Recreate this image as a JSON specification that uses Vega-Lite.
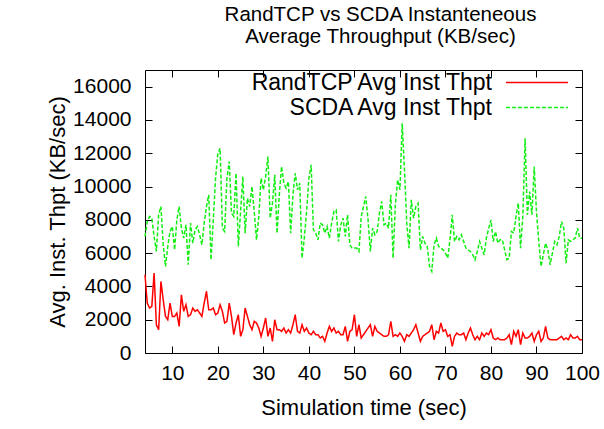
{
 "$schema": "https://vega.github.io/schema/vega-lite/v6.json",
 "width": 437,
 "height": 283,
 "autosize": {"type": "none"},
 "padding": {"left": 145, "top": 70, "right": 22, "bottom": 76},
 "background": "white",
 "config": {
  "font": "Liberation Sans",
  "view": {"stroke": "#000", "strokeWidth": 1},
  "axis": {"grid": false, "domain": false, "labelColor": "#000", "titleColor": "#000", "tickColor": "#000", "labelFontSize": 21, "titleFontSize": 22, "titleFontWeight": "normal", "labelFont": "Liberation Sans", "titleFont": "Liberation Sans", "tickSize": -7, "labelPadding": 15, "labelOverlap": false, "labelFlush": false}
 },
 "title": {"text": ["RandTCP vs SCDA Instanteneous", "Average Throughput (KB/sec)"], "fontSize": 20.5, "fontWeight": "normal", "font": "Liberation Sans", "color": "#000", "anchor": "middle", "dx": 17, "offset": 22, "lineHeight": 22},
 "data": {"values": [
  {"t":4.0,"RandTCP":4700,"SCDA":7000},{"t":4.5,"RandTCP":3000,"SCDA":7900},{"t":5.0,"RandTCP":2700,"SCDA":8200},{"t":5.5,"RandTCP":2800,"SCDA":8100},
  {"t":6.0,"RandTCP":4800,"SCDA":7000},{"t":6.5,"RandTCP":1700,"SCDA":6100},{"t":7.0,"RandTCP":1400,"SCDA":8300},{"t":7.5,"RandTCP":4300,"SCDA":8800},
  {"t":8.0,"RandTCP":3200,"SCDA":6500},{"t":8.5,"RandTCP":2200,"SCDA":5200},{"t":9.0,"RandTCP":2000,"SCDA":6400},{"t":9.5,"RandTCP":3000,"SCDA":7300},
  {"t":10.0,"RandTCP":2200,"SCDA":7600},{"t":10.5,"RandTCP":2200,"SCDA":6200},{"t":11.0,"RandTCP":2400,"SCDA":8000},{"t":11.5,"RandTCP":1600,"SCDA":8800},
  {"t":12.0,"RandTCP":3500,"SCDA":7500},{"t":12.5,"RandTCP":2500,"SCDA":6900},{"t":13.0,"RandTCP":2900,"SCDA":7700},{"t":13.5,"RandTCP":2200,"SCDA":5300},
  {"t":14.0,"RandTCP":2300,"SCDA":7800},{"t":14.5,"RandTCP":2700,"SCDA":6600},{"t":15.0,"RandTCP":2500,"SCDA":7400},{"t":15.5,"RandTCP":2600,"SCDA":7600},
  {"t":16.0,"RandTCP":2400,"SCDA":7100},{"t":16.5,"RandTCP":2200,"SCDA":6500},{"t":17.0,"RandTCP":3000,"SCDA":7800},{"t":17.5,"RandTCP":3700,"SCDA":8800},
  {"t":18.0,"RandTCP":2600,"SCDA":9500},{"t":18.5,"RandTCP":2600,"SCDA":5600},{"t":19.0,"RandTCP":2700,"SCDA":8000},{"t":19.5,"RandTCP":2300,"SCDA":10500},
  {"t":20.0,"RandTCP":2400,"SCDA":12000},{"t":20.5,"RandTCP":2900,"SCDA":12300},{"t":21.0,"RandTCP":2500,"SCDA":7500},{"t":21.5,"RandTCP":1800,"SCDA":7300},
  {"t":22.0,"RandTCP":1900,"SCDA":10500},{"t":22.5,"RandTCP":3000,"SCDA":11500},{"t":23.0,"RandTCP":2200,"SCDA":8400},{"t":23.5,"RandTCP":1100,"SCDA":8200},
  {"t":24.0,"RandTCP":1800,"SCDA":10800},{"t":24.5,"RandTCP":2300,"SCDA":6400},{"t":25.0,"RandTCP":1000,"SCDA":8500},{"t":25.5,"RandTCP":1400,"SCDA":10600},
  {"t":26.0,"RandTCP":2700,"SCDA":7200},{"t":26.5,"RandTCP":2200,"SCDA":9300},{"t":27.0,"RandTCP":1700,"SCDA":8800},{"t":27.5,"RandTCP":1400,"SCDA":10000},
  {"t":28.0,"RandTCP":1900,"SCDA":8500},{"t":28.5,"RandTCP":1800,"SCDA":6800},{"t":29.0,"RandTCP":1500,"SCDA":8200},{"t":29.5,"RandTCP":1000,"SCDA":10500},
  {"t":30.0,"RandTCP":1500,"SCDA":9800},{"t":30.5,"RandTCP":2100,"SCDA":10600},{"t":31.0,"RandTCP":1000,"SCDA":11800},{"t":31.5,"RandTCP":1500,"SCDA":8100},
  {"t":32.0,"RandTCP":700,"SCDA":9000},{"t":32.5,"RandTCP":2000,"SCDA":10700},{"t":33.0,"RandTCP":1400,"SCDA":7200},{"t":33.5,"RandTCP":1400,"SCDA":9500},
  {"t":34.0,"RandTCP":1300,"SCDA":11200},{"t":34.5,"RandTCP":1500,"SCDA":10200},{"t":35.0,"RandTCP":1200,"SCDA":9900},{"t":35.5,"RandTCP":1400,"SCDA":10300},
  {"t":36.0,"RandTCP":1200,"SCDA":7200},{"t":36.5,"RandTCP":1700,"SCDA":9500},{"t":37.0,"RandTCP":2300,"SCDA":10800},{"t":37.5,"RandTCP":1300,"SCDA":9800},
  {"t":38.0,"RandTCP":1200,"SCDA":10200},{"t":38.5,"RandTCP":1700,"SCDA":5700},{"t":39.0,"RandTCP":1300,"SCDA":6900},{"t":39.5,"RandTCP":1500,"SCDA":8500},
  {"t":40.0,"RandTCP":1200,"SCDA":10500},{"t":40.5,"RandTCP":1100,"SCDA":11300},{"t":41.0,"RandTCP":1300,"SCDA":7400},{"t":41.5,"RandTCP":1100,"SCDA":7200},
  {"t":42.0,"RandTCP":1100,"SCDA":6800},{"t":42.5,"RandTCP":900,"SCDA":7800},{"t":43.0,"RandTCP":1000,"SCDA":7700},{"t":43.5,"RandTCP":700,"SCDA":7200},
  {"t":44.0,"RandTCP":1200,"SCDA":7600},{"t":44.5,"RandTCP":1600,"SCDA":6900},{"t":45.0,"RandTCP":1300,"SCDA":7800},{"t":45.5,"RandTCP":1500,"SCDA":8500},
  {"t":46.0,"RandTCP":1200,"SCDA":8600},{"t":46.5,"RandTCP":1300,"SCDA":6700},{"t":47.0,"RandTCP":1100,"SCDA":7700},{"t":47.5,"RandTCP":1100,"SCDA":8100},
  {"t":48.0,"RandTCP":1600,"SCDA":7000},{"t":48.5,"RandTCP":700,"SCDA":8300},{"t":49.0,"RandTCP":1300,"SCDA":6500},{"t":49.5,"RandTCP":1400,"SCDA":6300},
  {"t":50.0,"RandTCP":2300,"SCDA":6300},{"t":50.5,"RandTCP":1000,"SCDA":6300},{"t":51.0,"RandTCP":1700,"SCDA":6100},{"t":51.5,"RandTCP":900,"SCDA":8200},
  {"t":52.0,"RandTCP":1100,"SCDA":8800},{"t":52.5,"RandTCP":1300,"SCDA":9400},{"t":53.0,"RandTCP":1500,"SCDA":8000},{"t":53.5,"RandTCP":1700,"SCDA":6100},
  {"t":54.0,"RandTCP":1000,"SCDA":7500},{"t":54.5,"RandTCP":1600,"SCDA":7100},{"t":55.0,"RandTCP":1300,"SCDA":7300},{"t":55.5,"RandTCP":1200,"SCDA":8400},
  {"t":56.0,"RandTCP":1100,"SCDA":9100},{"t":56.5,"RandTCP":1000,"SCDA":7700},{"t":57.0,"RandTCP":1000,"SCDA":7800},{"t":57.5,"RandTCP":1100,"SCDA":7500},
  {"t":58.0,"RandTCP":1900,"SCDA":9500},{"t":58.5,"RandTCP":1000,"SCDA":5700},{"t":59.0,"RandTCP":1100,"SCDA":8900},{"t":59.5,"RandTCP":1000,"SCDA":10400},
  {"t":60.0,"RandTCP":1200,"SCDA":9800},{"t":60.5,"RandTCP":1000,"SCDA":13800},{"t":61.0,"RandTCP":700,"SCDA":11000},{"t":61.5,"RandTCP":1100,"SCDA":7800},
  {"t":62.0,"RandTCP":1000,"SCDA":6300},{"t":62.5,"RandTCP":1200,"SCDA":9200},{"t":63.0,"RandTCP":1400,"SCDA":8100},{"t":63.5,"RandTCP":1700,"SCDA":8800},
  {"t":64.0,"RandTCP":1200,"SCDA":9000},{"t":64.5,"RandTCP":700,"SCDA":6200},{"t":65.0,"RandTCP":1000,"SCDA":7000},{"t":65.5,"RandTCP":1100,"SCDA":6600},
  {"t":66.0,"RandTCP":1200,"SCDA":6400},{"t":66.5,"RandTCP":1300,"SCDA":5200},{"t":67.0,"RandTCP":1700,"SCDA":4900},{"t":67.5,"RandTCP":800,"SCDA":6500},
  {"t":68.0,"RandTCP":1300,"SCDA":6900},{"t":68.5,"RandTCP":1200,"SCDA":6400},{"t":69.0,"RandTCP":1800,"SCDA":6300},{"t":69.5,"RandTCP":1300,"SCDA":6200},
  {"t":70.0,"RandTCP":1400,"SCDA":6000},{"t":70.5,"RandTCP":1000,"SCDA":5700},{"t":71.0,"RandTCP":1100,"SCDA":6800},{"t":71.5,"RandTCP":400,"SCDA":8300},
  {"t":72.0,"RandTCP":1000,"SCDA":6700},{"t":72.5,"RandTCP":1200,"SCDA":7000},{"t":73.0,"RandTCP":1100,"SCDA":6800},{"t":73.5,"RandTCP":1100,"SCDA":7100},
  {"t":74.0,"RandTCP":1200,"SCDA":6700},{"t":74.5,"RandTCP":800,"SCDA":6300},{"t":75.0,"RandTCP":1200,"SCDA":6200},{"t":75.5,"RandTCP":1500,"SCDA":6100},
  {"t":76.0,"RandTCP":1100,"SCDA":5900},{"t":76.5,"RandTCP":800,"SCDA":5600},{"t":77.0,"RandTCP":1000,"SCDA":6100},{"t":77.5,"RandTCP":800,"SCDA":6700},
  {"t":78.0,"RandTCP":1200,"SCDA":6300},{"t":78.5,"RandTCP":1000,"SCDA":5900},{"t":79.0,"RandTCP":1200,"SCDA":6900},{"t":79.5,"RandTCP":1100,"SCDA":7500},
  {"t":80.0,"RandTCP":1400,"SCDA":8000},{"t":80.5,"RandTCP":900,"SCDA":6700},{"t":81.0,"RandTCP":800,"SCDA":7300},{"t":81.5,"RandTCP":900,"SCDA":6600},
  {"t":82.0,"RandTCP":800,"SCDA":6800},{"t":82.5,"RandTCP":800,"SCDA":6800},{"t":83.0,"RandTCP":800,"SCDA":6200},{"t":83.5,"RandTCP":900,"SCDA":5600},
  {"t":84.0,"RandTCP":1100,"SCDA":5700},{"t":84.5,"RandTCP":500,"SCDA":7300},{"t":85.0,"RandTCP":1300,"SCDA":7200},{"t":85.5,"RandTCP":1000,"SCDA":8200},
  {"t":86.0,"RandTCP":1400,"SCDA":9000},{"t":86.5,"RandTCP":500,"SCDA":6300},{"t":87.0,"RandTCP":1200,"SCDA":8200},{"t":87.5,"RandTCP":900,"SCDA":12900},
  {"t":88.0,"RandTCP":900,"SCDA":8300},{"t":88.5,"RandTCP":1000,"SCDA":9700},{"t":89.0,"RandTCP":1200,"SCDA":8300},{"t":89.5,"RandTCP":700,"SCDA":11200},
  {"t":90.0,"RandTCP":1100,"SCDA":8500},{"t":90.5,"RandTCP":1300,"SCDA":6700},{"t":91.0,"RandTCP":700,"SCDA":5200},{"t":91.5,"RandTCP":900,"SCDA":5900},
  {"t":92.0,"RandTCP":1600,"SCDA":6600},{"t":92.5,"RandTCP":900,"SCDA":6200},{"t":93.0,"RandTCP":800,"SCDA":5300},{"t":93.5,"RandTCP":800,"SCDA":6000},
  {"t":94.0,"RandTCP":800,"SCDA":6700},{"t":94.5,"RandTCP":800,"SCDA":6500},{"t":95.0,"RandTCP":900,"SCDA":7000},{"t":95.5,"RandTCP":1000,"SCDA":7900},
  {"t":96.0,"RandTCP":800,"SCDA":7500},{"t":96.5,"RandTCP":900,"SCDA":5400},{"t":97.0,"RandTCP":800,"SCDA":6800},{"t":97.5,"RandTCP":1100,"SCDA":6700},
  {"t":98.0,"RandTCP":900,"SCDA":6800},{"t":98.5,"RandTCP":900,"SCDA":6900},{"t":99.0,"RandTCP":1000,"SCDA":7500},{"t":99.5,"RandTCP":800,"SCDA":6900},
  {"t":100.0,"RandTCP":800,"SCDA":6900}
 ]},
 "transform": [{"fold": ["RandTCP", "SCDA"], "as": ["series", "v"]}],
 "layer": [
  {
   "mark": {"type": "line", "strokeWidth": 1.5},
   "encoding": {
    "x": {"field": "t", "type": "quantitative", "scale": {"domain": [4, 100], "nice": false, "zero": false},
          "axis": {"orient": "bottom", "values": [10,20,30,40,50,60,70,80,90,100], "format": "d", "title": "Simulation time (sec)", "titlePadding": 14, "labelPadding": 16}},
    "y": {"field": "v", "type": "quantitative", "scale": {"domain": [0, 17000], "nice": false},
          "axis": {"orient": "left", "values": [0,2000,4000,6000,8000,10000,12000,14000,16000], "format": "d", "title": "Avg. Inst. Thpt (KB/sec)", "titlePadding": 3, "labelPadding": 21}},
    "color": {"field": "series", "type": "nominal", "scale": {"domain": ["RandTCP", "SCDA"], "range": ["#ff0000", "#11ee11"]},
              "legend": {"orient": "none", "legendX": 379.5, "legendY": 0, "title": null, "symbolType": "M-2.7,0H2.7", "symbolSize": 529, "symbolStrokeWidth": 1.5, "labelFontSize": 23, "labelFont": "Liberation Sans", "labelColor": "#000", "labelAlign": "right", "labelOffset": -57.5, "labelLimit": 400, "labelExpr": "datum.label + ' Avg Inst Thpt'", "rowPadding": -2, "padding": 0}},
    "strokeDash": {"field": "series", "type": "nominal", "scale": {"domain": ["RandTCP", "SCDA"], "range": [[1, 0], [4, 2]]},
              "legend": {"orient": "none", "legendX": 379.5, "legendY": 0, "title": null, "symbolType": "M-2.7,0H2.7", "symbolSize": 529, "symbolStrokeWidth": 1.5, "labelFontSize": 23, "labelFont": "Liberation Sans", "labelColor": "#000", "labelAlign": "right", "labelOffset": -57.5, "labelLimit": 400, "labelExpr": "datum.label + ' Avg Inst Thpt'", "rowPadding": -2, "padding": 0}}
   }
  },
  {
   "mark": {"type": "line", "opacity": 0},
   "encoding": {
    "x": {"field": "t", "type": "quantitative", "axis": {"orient": "top", "values": [10,20,30,40,50,60,70,80,90,100], "labels": false, "title": null}},
    "y": {"field": "v", "type": "quantitative", "axis": {"orient": "right", "values": [0,2000,4000,6000,8000,10000,12000,14000,16000], "labels": false, "title": null}}
   }
  }
 ],
 "resolve": {"axis": {"x": "independent", "y": "independent"}}
}
